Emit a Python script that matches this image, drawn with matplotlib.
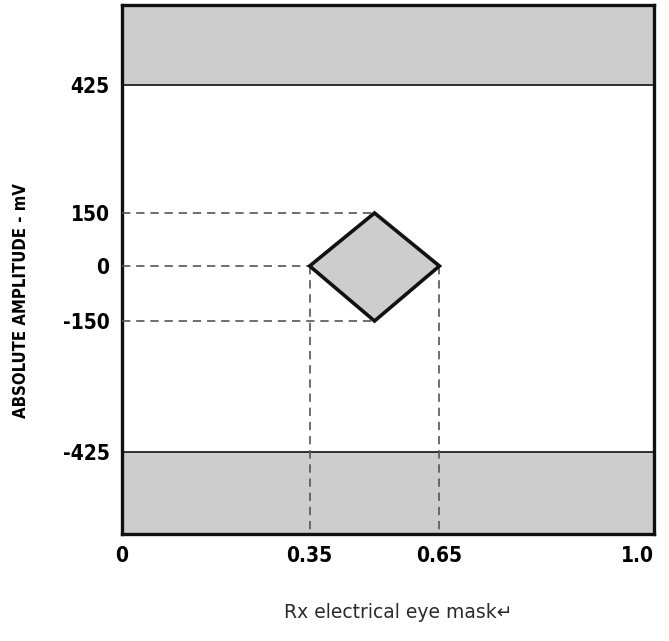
import numpy as np
import matplotlib
matplotlib.use("Agg")
import matplotlib.pyplot as plt
from matplotlib.patches import Polygon

# ---- data ----
eye_x = [0.35, 0.50, 0.65, 0.50]      # UI
eye_y = [0, 150, 0, -150]             # mV
mask_limit = 425                      # mV
y_ticks = [-425, -150, 0, 150, 425]
y_ticklabels = ["-425", "-150", "0", "150", "425"]
x_ticks = [0, 0.35, 0.65, 1.0]
x_ticklabels = ["0", "0.35", "0.65", "1.0"]
y_range = (-620, 620)
x_range = (0, 1.0)

# ---- schematic (non-proportional) scales ----
y_knots_val = [-620, -425, -150, 0, 150, 425, 620]
y_knots_pos = [0, 82, 213, 268, 321, 449, 529]
x_knots_val = [0, 0.35, 0.5, 0.65, 1.0]
x_knots_pos = [0, 188, 253, 318, 533]

def fwd_y(v):
    return np.interp(v, y_knots_val, y_knots_pos)
def inv_y(p):
    return np.interp(p, y_knots_pos, y_knots_val)
def fwd_x(v):
    return np.interp(v, x_knots_val, x_knots_pos)
def inv_x(p):
    return np.interp(p, x_knots_pos, x_knots_val)

W, H = 669, 641
fig = plt.figure(figsize=(W / 100, H / 100), dpi=100)
ax = fig.add_axes([122 / W, (H - 534) / H, 532 / W, 529 / H])
ax.set_xscale("function", functions=(fwd_x, inv_x))
ax.set_yscale("function", functions=(fwd_y, inv_y))
ax.set_xlim(*x_range)
ax.set_ylim(*y_range)

gray = "#cdcdcd"
# keep-out bands
ax.axhspan(mask_limit, y_range[1], color=gray, zorder=1, lw=0)
ax.axhspan(y_range[0], -mask_limit, color=gray, zorder=1, lw=0)
ax.axhline(mask_limit, color="#222222", lw=1.3, zorder=2)
ax.axhline(-mask_limit, color="#222222", lw=1.3, zorder=2)

# dashed guide lines
dash = dict(color="#555555", lw=1.2, linestyle=(0, (5, 3.5)), zorder=3)
ax.plot([0, eye_x[1]], [eye_y[1], eye_y[1]], **dash)
ax.plot([0, eye_x[0]], [eye_y[0], eye_y[0]], **dash)
ax.plot([0, eye_x[3]], [eye_y[3], eye_y[3]], **dash)
ax.plot([eye_x[0], eye_x[0]], [eye_y[0], y_range[0]], **dash)
ax.plot([eye_x[2], eye_x[2]], [eye_y[2], y_range[0]], **dash)

# eye mask diamond
ax.add_patch(Polygon(np.column_stack([eye_x, eye_y]), closed=True,
                     facecolor=gray, edgecolor="#111111", lw=2.6,
                     joinstyle="miter", zorder=4))

for s in ax.spines.values():
    s.set_linewidth(2.4)
    s.set_color("#111111")

bold = dict(family="DejaVu Sans", fontstretch="condensed", fontweight="bold")
ax.set_yticks(y_ticks)
ax.set_yticklabels(y_ticklabels, fontsize=15, **bold)
ax.set_xticks(x_ticks)
xt = ax.set_xticklabels(x_ticklabels, fontsize=15, **bold)
xt[-1].set_horizontalalignment("right")
xt[-1].set_x(1.0)
ax.tick_params(length=0, pad=9)
ax.minorticks_off()

ax.set_ylabel("ABSOLUTE AMPLITUDE - mV", fontsize=12, **bold)
ax.yaxis.set_label_coords(-0.172, 0.442)
ax.set_xlabel("Rx electrical eye mask\u21b5", family="DejaVu Sans",
              fontsize=13.5, color="#2a2a2a")
ax.xaxis.set_label_coords(0.52, -0.13)

fig.savefig("out.png", dpi=100)
